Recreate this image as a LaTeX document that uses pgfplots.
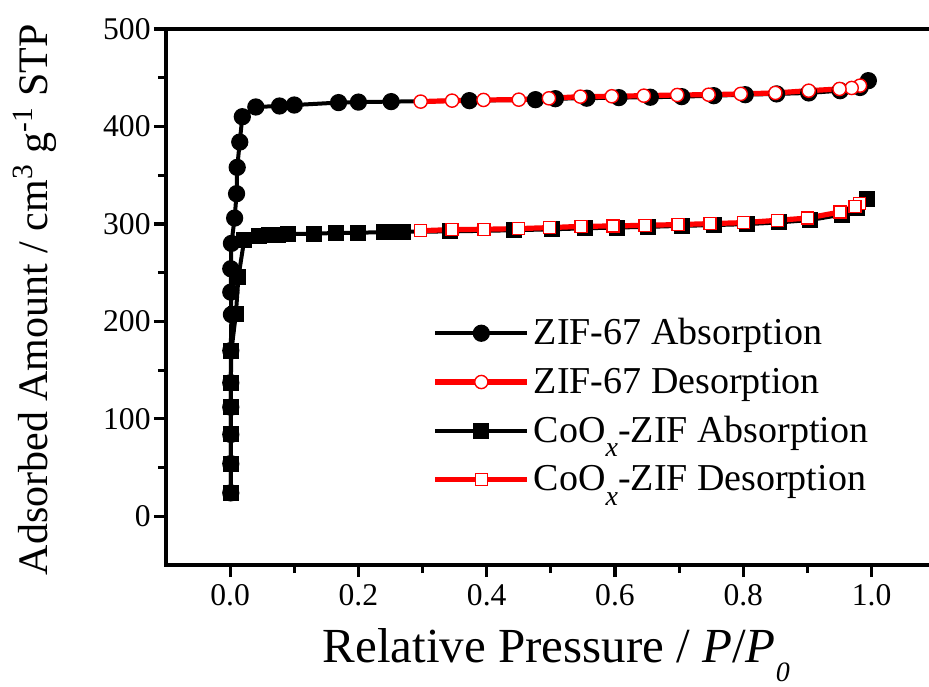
\documentclass[border=0pt]{standalone}
\usepackage{fontspec}
\setmainfont{Liberation Serif}
\usepackage{pgfplots}
\pgfplotsset{compat=1.18}

\definecolor{desred}{RGB}{255,0,0}
% a lowered italic subscript, as in CoO_x
\newcommand{\lowsub}[1]{\raisebox{-0.38em}{\fontsize{14}{14}\selectfont\textit{#1}}}

\begin{document}
\begin{tikzpicture}
% the frame runs on past the right edge of the figure
\useasboundingbox (-83pt,-60.5pt) rectangle (381.5pt,282.5pt);
\clip (-83pt,-60.5pt) rectangle (381.5pt,282.5pt);
\begin{axis}[
  at={(0pt,0pt)}, anchor=south west,
  scale only axis, width=384.85pt, height=268pt,
  xmin=-0.1, xmax=1.1, ymin=-50, ymax=500,
  axis line style={line width=2pt},
  every tick/.style={line width=1.6pt, black},
  tick align=outside, xtick pos=left, ytick pos=left,
  major tick length=6pt, minor tick length=4pt,
  xtick={0,0.2,0.4,0.6,0.8,1.0}, minor x tick num=1,
  ytick={0,100,200,300,400,500}, minor y tick num=1,
  /pgf/number format/assume math mode=true,
  xticklabel style={/pgf/number format/.cd, fixed, fixed zerofill, precision=1},
  yticklabel style={inner sep=1.5pt, /pgf/number format/.cd, fixed, precision=0},
  tick label style={font=\fontsize{15.8}{19}\selectfont},
  xlabel={Relative Pressure / \textit{P}/\textit{P}\lowsub{0}},
  ylabel={Adsorbed Amount / cm\textsuperscript{3} g\textsuperscript{-1} STP},
  xlabel style={font=\fontsize{24.5}{28}\selectfont,
    at={(axis description cs:0.507,-0.168)}, anchor=center},
  ylabel style={font=\fontsize{21}{25}\selectfont,
    at={(axis description cs:-0.170,0.495)}, anchor=center},
  legend style={draw=none, fill=none, at={(axis description cs:0.346,0.468)},
    anchor=north west, inner sep=0pt, row sep=6pt,
    font=\fontsize{19}{22}\selectfont},
  legend cell align=left,
  legend image code/.code={
    \draw[mark repeat=2, mark phase=2, #1]
      plot coordinates {(0pt,0pt) (23pt,0pt) (46pt,0pt)};
  },
]
% ZIF-67 adsorption branch
\addplot[black, line width=2pt, mark=*, mark size=3.3pt,
  mark options={solid, fill=black}] coordinates {
  (0.001,24) (0.001,54) (0.001,84) (0.001,112) (0.001,137) (0.001,170)
  (0.002,207) (0.001,230) (0.001,254) (0.002,280) (0.007,306) (0.010,331)
  (0.011,358) (0.015,384) (0.019,410) (0.040,420) (0.077,421) (0.100,422)
  (0.169,424.5) (0.200,425) (0.251,425.5) (0.373,426.5) (0.476,427.5)
  (0.507,428.5) (0.556,429) (0.606,429.6) (0.655,430) (0.704,430.6)
  (0.754,431.6) (0.803,432.6) (0.852,433.4) (0.902,434.4) (0.951,436.7)
  (0.982,440) (0.995,447)
};
\addlegendentry{ZIF-67 Absorption}
% ZIF-67 desorption branch
\addplot[desred, line width=2.6pt, mark=*, mark size=3.3pt,
  mark options={solid, fill=white, draw=desred, line width=0.7pt}] coordinates {
  (0.982,441.9) (0.969,439.5) (0.950,438.5) (0.902,436.7) (0.850,434.4)
  (0.796,433.4) (0.746,432.6) (0.697,432.3) (0.645,431.6) (0.595,431)
  (0.546,430.6) (0.497,428.9) (0.450,427.5) (0.395,427.2) (0.346,426.5)
  (0.297,425.5)
};
\addlegendentry{ZIF-67 Desorption}
% CoOx-ZIF adsorption branch
\addplot[black, line width=2pt, mark=square*, mark size=3pt,
  mark options={solid, fill=black}] coordinates {
  (0.001,24) (0.001,54) (0.001,84) (0.001,112) (0.001,137) (0.002,170)
  (0.009,208) (0.013,246) (0.022,284) (0.045,288) (0.060,288.5)
  (0.075,289) (0.090,289.5) (0.130,290) (0.165,290.7) (0.200,291)
  (0.240,291.5) (0.255,291.7) (0.270,292) (0.343,292.3) (0.442,293.5)
  (0.502,294.5) (0.554,295.5) (0.603,296.3) (0.652,297) (0.704,298)
  (0.754,298.8) (0.806,299.8) (0.855,301.5) (0.904,304) (0.954,309.5)
  (0.977,316) (0.993,326)
};
\addlegendentry{CoO\lowsub{x}-ZIF Absorption}
% CoOx-ZIF desorption branch
\addplot[desred, line width=2.6pt, mark=square*, mark size=3pt,
  mark options={solid, fill=white, draw=desred, line width=0.7pt}] coordinates {
  (0.981,320.8) (0.974,318) (0.951,312.2) (0.900,306) (0.853,303.7)
  (0.800,301.3) (0.748,300.3) (0.698,299.3) (0.647,298.6) (0.597,297.9)
  (0.547,297.5) (0.498,296.2) (0.450,295.2) (0.396,294.5) (0.346,294.2)
  (0.297,293)
};
\addlegendentry{CoO\lowsub{x}-ZIF Desorption}
\end{axis}
\end{tikzpicture}
\end{document}
